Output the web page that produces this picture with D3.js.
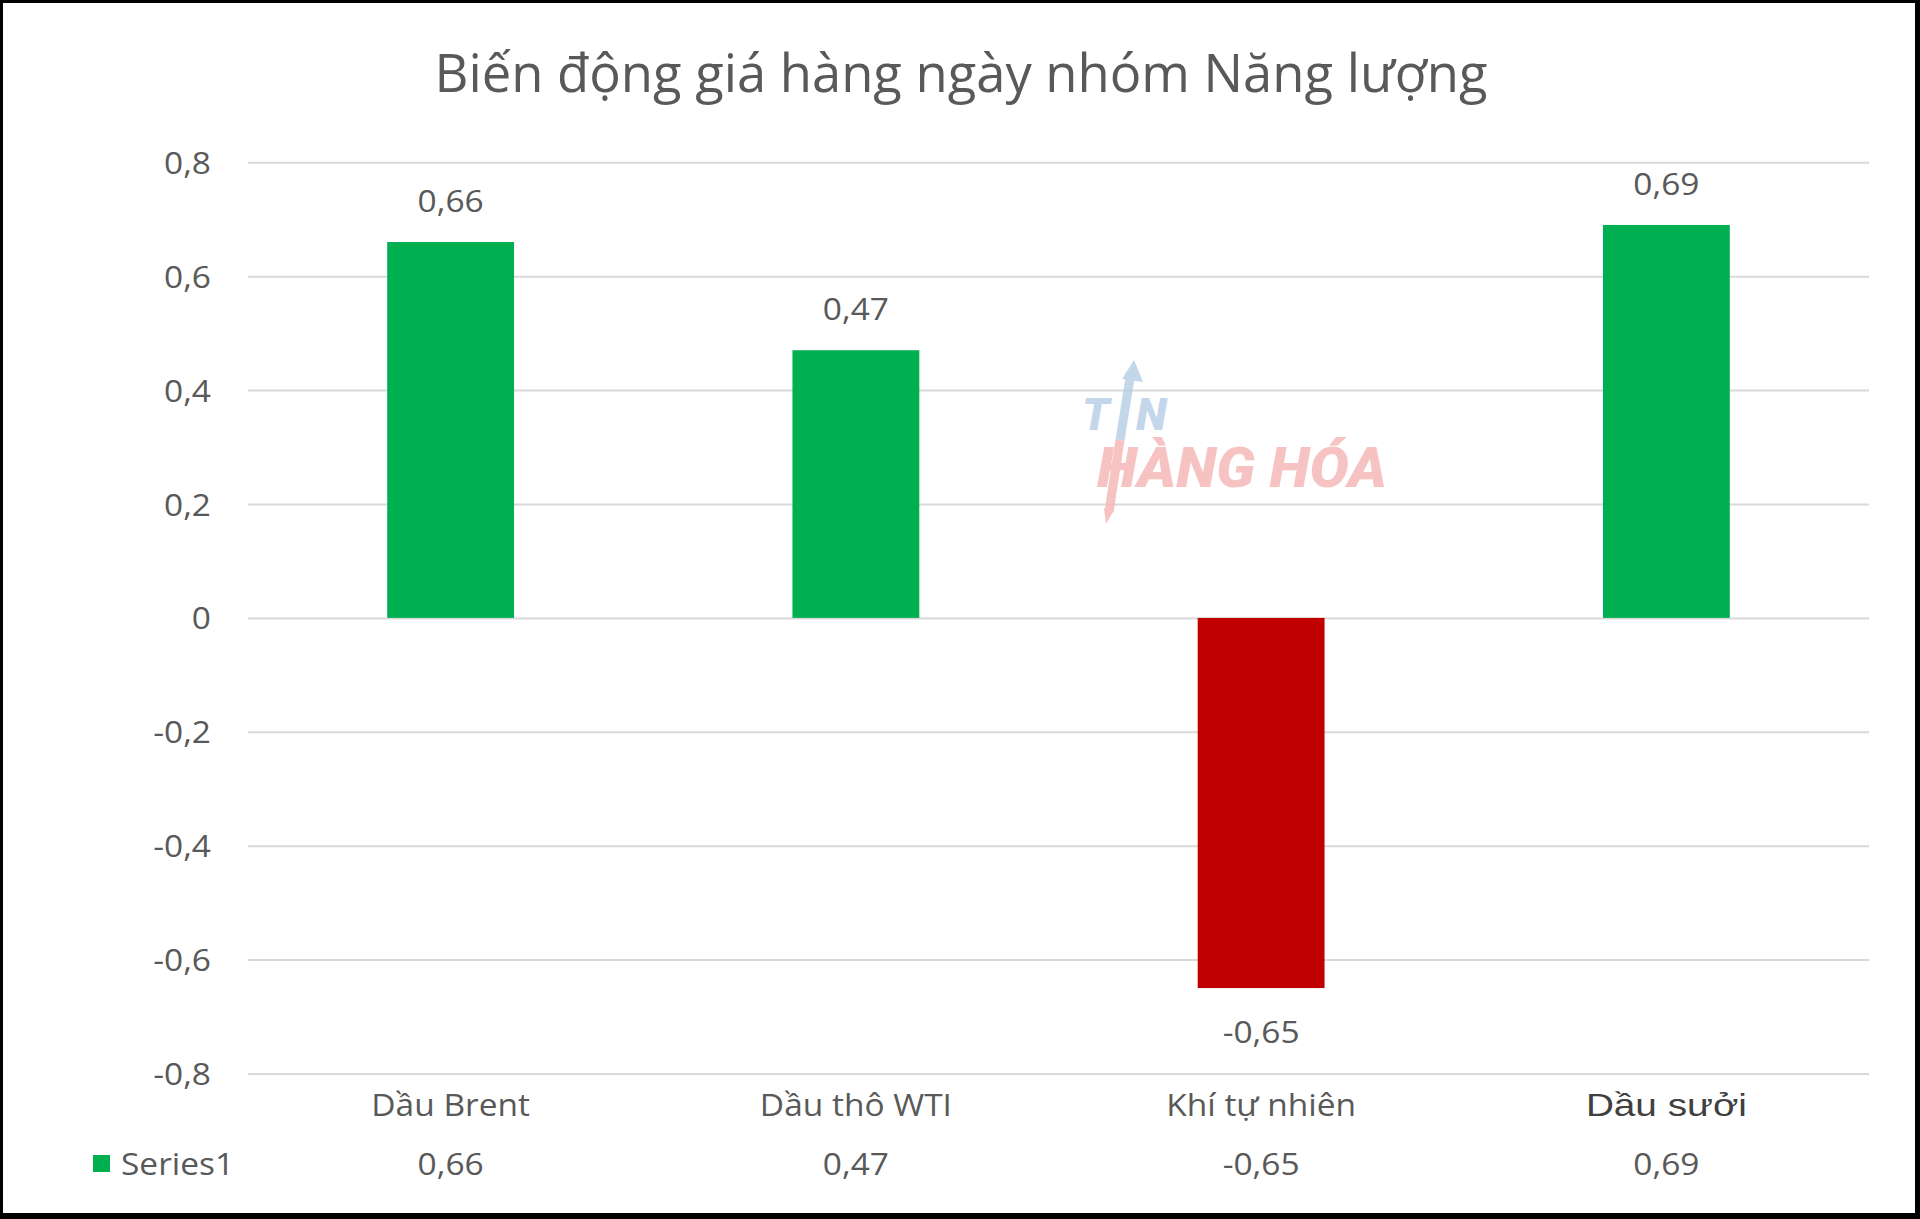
<!DOCTYPE html>
<html>
<head>
<meta charset="utf-8">
<script src="https://cdn.jsdelivr.net/npm/d3@7"></script>
<style>
  html, body { margin: 0; padding: 0; background: #fff; }
  svg { display: block; }
</style>
</head>
<body>
<svg id="chart" width="1920" height="1219"></svg>
<script>
const chartTitle = "Biến động giá hàng ngày nhóm Năng lượng";
const categories = ["Dầu Brent", "Dầu thô WTI", "Khí tự nhiên", "Dầu sưởi"];
const values = [0.66, 0.47, -0.65, 0.69];
const yTicks = [-0.8, -0.6, -0.4, -0.2, 0, 0.2, 0.4, 0.6, 0.8];
const seriesName = "Series1";

const W = 1920, H = 1219;
const svg = d3.select("#chart");
const SX = 1.08; // horizontal stretch of glyphs in the reference
const FONT = "'Open Sans', 'Noto Sans', sans-serif";
const TXT = "#595959";

const locale = d3.formatLocale({ decimal: ",", thousands: ".", grouping: [3], currency: ["", ""], minus: "-" });
const fmtTick = v => (v === 0 ? "0" : locale.format(".1f")(v));
const fmtVal = locale.format(".2f");

function stretch(sel, sx) {
  sel.each(function () {
    const t = d3.select(this);
    const x = +t.attr("x") || 0, y = +t.attr("y") || 0;
    t.attr("x", 0).attr("y", 0).attr("transform", `translate(${x},${y}) scale(${sx},1)`);
  });
}

// frame
svg.append("rect").attr("width", W).attr("height", H).attr("fill", "#000");
svg.append("rect").attr("x", 3).attr("y", 3).attr("width", W - 8).attr("height", H - 9).attr("fill", "#fff");

// scales
const x = d3.scaleBand().domain(categories).range([248, 1869]).paddingInner(0.687).paddingOuter(0.3435);
const y = d3.scaleLinear().domain([-0.8, 0.8]).range([1073.5, 162.3]);

// title
svg.append("text")
  .attr("x", 961).attr("y", 92)
  .attr("text-anchor", "middle")
  .attr("font-family", FONT).attr("font-size", 53).attr("fill", TXT)
  .attr("textLength", 1053).attr("lengthAdjust", "spacingAndGlyphs")
  .text(chartTitle);

// gridlines
const grid = svg.append("g").attr("transform", "translate(248,0)")
  .call(d3.axisLeft(y).tickValues(yTicks).tickSize(-(1869 - 248)).tickFormat(""));
grid.select(".domain").remove();
grid.selectAll(".tick line").attr("stroke", "#d9d9d9").attr("stroke-width", 2);

// y axis labels
const yAxis = svg.append("g").attr("transform", "translate(211,0)")
  .call(d3.axisLeft(y).tickValues(yTicks).tickSize(0).tickPadding(0).tickFormat(fmtTick));
yAxis.select(".domain").remove();
yAxis.selectAll(".tick text")
  .attr("font-family", FONT).attr("font-size", 31).attr("fill", TXT)
  .attr("dy", null).attr("dominant-baseline", null)
  .attr("y", 11);
stretch(yAxis.selectAll(".tick text"), SX);

// watermark logo
const wm = svg.append("g").attr("opacity", 0.85);
wm.append("text").attr("x", 1082).attr("y", 430)
  .attr("font-family", "Roboto, 'Open Sans', sans-serif").attr("font-weight", 900).attr("font-style", "italic")
  .attr("font-size", 45).attr("fill", "#b9cfe7").text("T");
wm.append("text").attr("x", 1136).attr("y", 430)
  .attr("font-family", "Roboto, 'Open Sans', sans-serif").attr("font-weight", 900).attr("font-style", "italic")
  .attr("font-size", 45).attr("fill", "#b9cfe7").text("N");
wm.append("text").attr("x", 1097).attr("y", 487)
  .attr("font-family", "Roboto, 'Open Sans', sans-serif").attr("font-weight", 900).attr("font-style", "italic")
  .attr("font-size", 55).attr("fill", "#f6b8b8")
  .attr("textLength", 290).attr("lengthAdjust", "spacingAndGlyphs")
  .text("HÀNG HÓA");
// arrow shaft (upper blue, lower pink)
wm.append("line").attr("x1", 1131).attr("y1", 372).attr("x2", 1120).attr("y2", 440)
  .attr("stroke", "#b9cfe7").attr("stroke-width", 9);
wm.append("line").attr("x1", 1120).attr("y1", 440).attr("x2", 1109).attr("y2", 512)
  .attr("stroke", "#f6b8b8").attr("stroke-width", 9);
wm.append("path").attr("d", "M1134,360 L1143,382 L1122,379 Z").attr("fill", "#b9cfe7");
wm.append("path").attr("d", "M1104,508 L1114,510 L1106,524 Z").attr("fill", "#f6b8b8");

// bars
svg.append("g").selectAll("rect")
  .data(values)
  .join("rect")
  .attr("x", (d, i) => x(categories[i]))
  .attr("width", x.bandwidth())
  .attr("y", d => y(Math.max(0, d)))
  .attr("height", d => Math.abs(y(d) - y(0)))
  .attr("fill", d => (d >= 0 ? "#00B050" : "#C00000"));

// data labels
const dl = svg.append("g").selectAll("text")
  .data(values)
  .join("text")
  .attr("x", (d, i) => x(categories[i]) + x.bandwidth() / 2)
  .attr("y", d => (d >= 0 ? y(d) - 30 : y(d) + 55))
  .attr("text-anchor", "middle")
  .attr("font-family", FONT).attr("font-size", 31).attr("fill", TXT)
  .text(d => fmtVal(d));
stretch(dl, SX);

// category labels
const cl = svg.append("g").selectAll("text")
  .data(categories)
  .join("text")
  .attr("x", d => x(d) + x.bandwidth() / 2)
  .attr("y", 1116)
  .attr("text-anchor", "middle")
  .attr("font-family", (d, i) => (i === 3 ? "'Liberation Sans', Arial, sans-serif" : FONT))
  .attr("font-size", (d, i) => (i === 3 ? 32 : 31))
  .attr("fill", (d, i) => (i === 3 ? "#404040" : TXT))
  .text(d => d);
stretch(cl.filter((d, i) => i !== 3), SX);
cl.filter((d, i) => i === 3).attr("textLength", 161).attr("lengthAdjust", "spacingAndGlyphs");

// data table row with legend key
svg.append("rect").attr("x", 93).attr("y", 1155).attr("width", 17).attr("height", 17).attr("fill", "#00B050");
const sn = svg.append("text").attr("x", 121).attr("y", 1175)
  .attr("font-family", FONT).attr("font-size", 31).attr("fill", TXT)
  .text(seriesName);
stretch(sn, SX);
const tv = svg.append("g").selectAll("text")
  .data(values)
  .join("text")
  .attr("x", (d, i) => x(categories[i]) + x.bandwidth() / 2)
  .attr("y", 1175)
  .attr("text-anchor", "middle")
  .attr("font-family", FONT).attr("font-size", 31).attr("fill", TXT)
  .text(d => fmtVal(d));
stretch(tv, SX);
</script>
</body>
</html>
